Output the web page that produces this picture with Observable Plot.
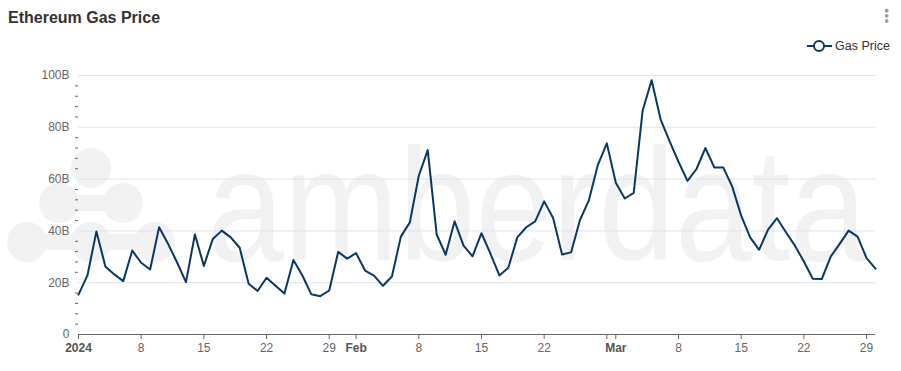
<!DOCTYPE html>
<html><head><meta charset="utf-8">
<script src="https://cdn.jsdelivr.net/npm/d3@7"></script>
<script src="https://cdn.jsdelivr.net/npm/@observablehq/plot@0.6"></script>
<style>
html,body{margin:0;padding:0;background:#fff;}
#wrap{position:relative;width:901px;height:371px;overflow:hidden;font-family:"Liberation Sans",Arial,sans-serif;}
#chart{position:absolute;left:0;top:0;}
#title{position:absolute;left:8px;top:10px;line-height:16px;font-size:16px;font-weight:bold;color:#333;}
#legend{position:absolute;left:806px;top:38px;height:16px;display:flex;align-items:center;font-size:12.5px;color:#333;}
#legend span{margin-left:1px;}
#menu{position:absolute;left:882px;top:6px;}
</style></head>
<body>
<div id="wrap">
  <div id="chart"></div>
  <div id="title">Ethereum Gas Price</div>
  <div id="legend"><svg width="28" height="16"><line x1="1" x2="26" y1="8" y2="8" stroke="#0a3764" stroke-width="2"/><circle cx="13" cy="8" r="5" fill="#fff" stroke="#0a3764" stroke-width="2"/></svg><span>Gas Price</span></div>
  <svg id="menu" width="10" height="20"><circle cx="4.7" cy="4.7" r="1.9" fill="#9aa0a6"/><circle cx="4.7" cy="9.8" r="1.9" fill="#9aa0a6"/><circle cx="4.7" cy="15" r="1.9" fill="#9aa0a6"/></svg>
</div>
<script>
// ---- data ----
const startDate = "2024-01-01";
const gasPrice = [
  15.4, 22.8, 39.8, 26.3, 23.2, 20.6, 32.4, 27.7, 25.1, 41.4,
  35.0, 27.9, 20.2, 38.6, 26.5, 36.9, 40.1, 37.5, 33.5, 19.6,
  16.8, 21.9, 18.8, 15.8, 28.8, 22.8, 15.5, 14.8, 17.0, 31.9,
  29.3, 31.4, 24.7, 22.7, 18.8, 22.4, 37.8, 43.3, 61.3, 71.2,
  38.6, 30.8, 43.7, 34.3, 30.2, 39.1, 31.2, 22.8, 25.8, 37.5,
  41.4, 43.7, 51.4, 45.0, 30.9, 31.7, 44.2, 51.9, 65.5, 73.8,
  58.6, 52.5, 54.7, 86.5, 98.2, 83.1, 74.7, 66.7, 59.3, 63.8,
  72.0, 64.5, 64.5, 57.1, 45.9, 37.5, 32.7, 40.5, 44.9, 39.5,
  34.3, 28.2, 21.5, 21.4, 30.1, 35.0, 40.1, 37.8, 29.5, 25.4
];
const yTicks = [0, 20, 40, 60, 80, 100];
const yGridTicks = [20, 40, 60, 80, 100];
const yMinorTicks = [4, 8, 12, 16, 24, 28, 32, 36, 44, 48, 52, 56, 64, 68, 72, 76, 84, 88, 92, 96];
const xTickDates = ["2024-01-01","2024-01-08","2024-01-15","2024-01-22","2024-01-29","2024-02-01","2024-02-08","2024-02-15","2024-02-22","2024-02-29","2024-03-01","2024-03-08","2024-03-15","2024-03-22","2024-03-29"];
const xTickLabels = ["2024","8","15","22","29","Feb","8","15","22","","Mar","8","15","22","29"];
const xBoldLabels = ["2024","Feb","Mar"];

// ---- build ----
const start = new Date(startDate + "T00:00:00Z");
const dates = d3.utcDay.range(start, d3.utcDay.offset(start, gasPrice.length));
const data = gasPrice.map((v, i) => ({date: dates[i], value: v}));
const xTicks = xTickDates.map(d => new Date(d + "T00:00:00Z"));
const labelOf = new Map(xTicks.map((d, i) => [+d, xTickLabels[i]]));
const boldTicks = xTicks.filter(d => xBoldLabels.includes(labelOf.get(+d)));
const navy = "#0a3764";

const chart = Plot.plot({
  width: 901, height: 371,
  marginLeft: 78, marginRight: 26, marginTop: 75, marginBottom: 37,
  style: {fontFamily: "'Liberation Sans', Arial, sans-serif", fontSize: "12px", background: "transparent", overflow: "visible"},
  x: {type: "utc", domain: [dates[0], dates[dates.length - 1]], label: null},
  y: {domain: [0, 100], label: null},
  marks: [
    Plot.gridY(yGridTicks, {stroke: "#dfe4f2", strokeOpacity: 1}),
    Plot.axisY(yMinorTicks, {tickSize: 3, text: null, stroke: "#666", strokeOpacity: 1, label: null}),
    Plot.axisY(yTicks, {tickSize: 0, tickPadding: 9, fill: "#666", tickFormat: d => d === 0 ? "0" : d + "B", label: null}),
    Plot.ruleY([0], {stroke: "#666", strokeWidth: 1}),
    Plot.axisX(xTicks, {tickSize: 5, tickPadding: 4, stroke: "#666", strokeOpacity: 1, fill: "#666",
      tickFormat: d => xBoldLabels.includes(labelOf.get(+d)) ? "" : labelOf.get(+d), label: null}),
    Plot.axisX(boldTicks, {tickSize: 0, tickPadding: 9, fill: "#555", fontWeight: "bold",
      tickFormat: d => labelOf.get(+d), label: null}),
    Plot.lineY(data, {x: "date", y: "value", stroke: navy, strokeWidth: 2, strokeLinejoin: "round"})
  ]
});

// faint watermark (decoration) behind everything
const svg = d3.select(chart);
const wm = svg.insert("g", ":first-child").attr("fill", "#f2f2f2");
const rows = [[[91, 168]], [[59, 203], [123, 203]], [[27, 242], [91, 242], [155, 242]]];
rows.forEach(r => {
  r.forEach(([cx, cy]) => wm.append("circle").attr("cx", cx).attr("cy", cy).attr("r", 20));
  if (r.length > 1) wm.append("rect").attr("x", r[0][0]).attr("y", r[0][1] - 8).attr("width", r[r.length - 1][0] - r[0][0]).attr("height", 16);
});
wm.append("text").attr("transform", "translate(207,260) scale(1,1.15)").attr("font-size", 138)
  .attr("text-anchor", "start")
  .attr("font-family", "'Liberation Sans', Arial, sans-serif")
  .text("amberdata");

document.getElementById("chart").appendChild(chart);
</script>
</body></html>
